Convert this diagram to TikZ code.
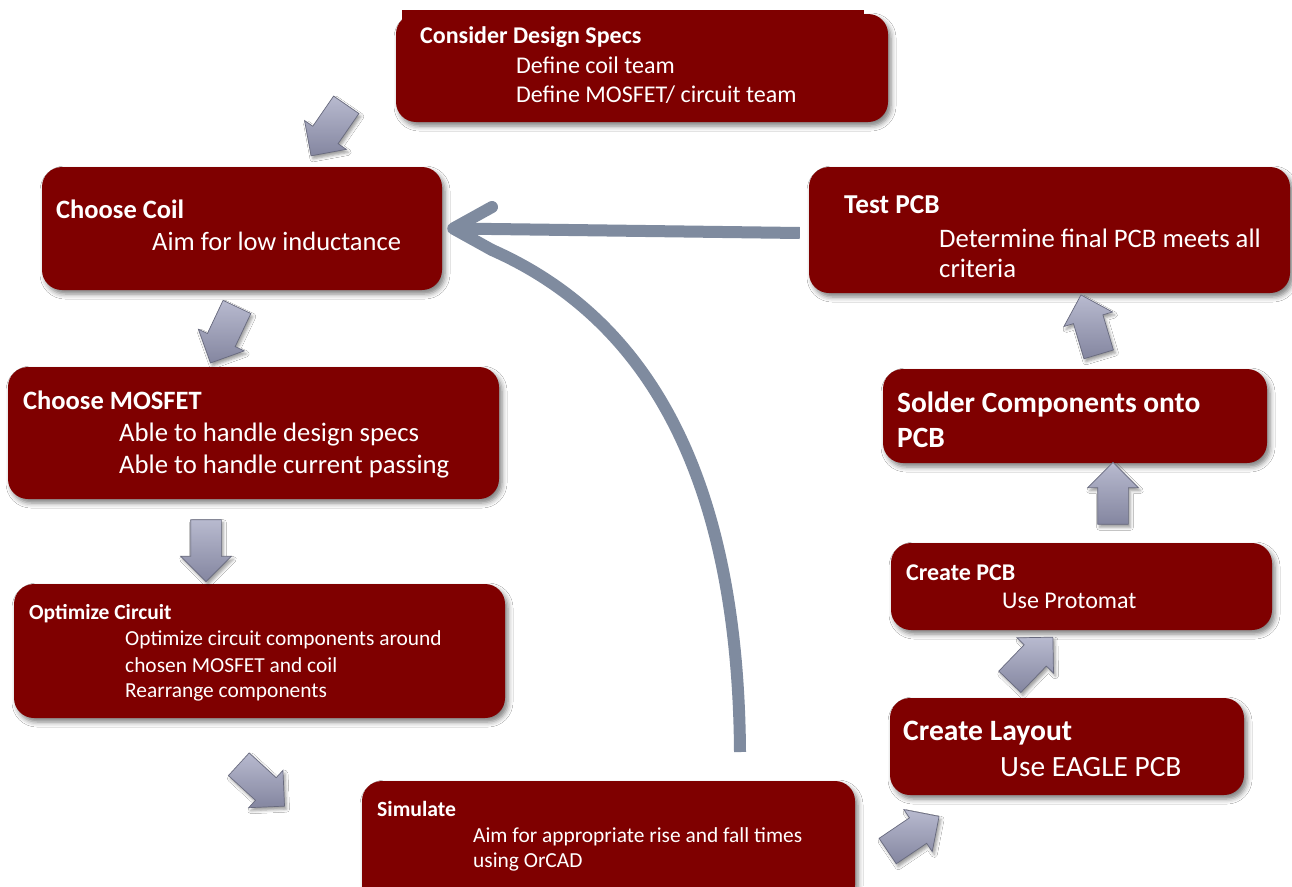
\documentclass[tikz,border=0pt]{standalone}
\usepackage{fontspec}
\setmainfont{Carlito}
\usetikzlibrary{shapes.arrows,shadows.blur}
\definecolor{boxred}{HTML}{7F0000}
\definecolor{arrgray}{HTML}{7F8B9F}
\definecolor{blocklight}{HTML}{B8BACF}
\definecolor{blockdark}{HTML}{8486A0}
\definecolor{blockedge}{HTML}{686A7E}
\newcommand{\fs}[1]{\fontsize{#1}{#1}\selectfont}
\begin{document}
\begin{tikzpicture}[x=1pt,y=-1pt,
  stepbox/.style={fill=boxred, rounded corners=20pt, inner sep=0pt,
    blur shadow={shadow xshift=3pt, shadow yshift=-4pt, shadow blur radius=5pt, shadow opacity=50}},
  txt/.style={anchor=base west, inner sep=0pt, text=white},
  blockarrow/.style={single arrow, single arrow head extend=10pt, inner xsep=0pt, inner ysep=15pt,
    minimum height=62pt, text width=0pt, draw=blockedge, line width=0.7pt,
    top color=blocklight, bottom color=blockdark,
    blur shadow={shadow xshift=2pt, shadow yshift=-3pt, shadow blur radius=3pt, shadow opacity=40}},
  bigline/.style={draw=arrgray, line width=12pt}
]
\useasboundingbox (0,0) rectangle (1292,886);
\clip (0,0) rectangle (1292,886);
\fill[white] (0,0) rectangle (1292,886);

% boxes
\node[stepbox, minimum width=492pt, minimum height=108pt] (cds) at (642,68) {};
\fill[boxred] (402,10) rectangle (864,40);
\node[stepbox, minimum width=400pt, minimum height=123pt] (coil) at (242,228.5) {};
\node[stepbox, minimum width=491pt, minimum height=132pt] (mosfet) at (253.5,433) {};
\node[stepbox, minimum width=491pt, minimum height=134pt] (opt) at (259.5,651) {};
\node[stepbox, minimum width=493pt, minimum height=124pt] (sim) at (608.5,843) {};
\node[stepbox, minimum width=354pt, minimum height=97pt] (layout) at (1067,746.5) {};
\node[stepbox, minimum width=381pt, minimum height=87pt] (pcb) at (1081.5,586.5) {};
\node[stepbox, minimum width=384pt, minimum height=94pt] (solder) at (1075,416) {};
\node[stepbox, minimum width=481pt, minimum height=126pt] (test) at (1049.5,230) {};

% texts
\node[txt, font=\fs{24}\bfseries] (t1a) at (420,43) {Consider Design Specs};
\node[txt, font=\fs{24}] (t1b) at (516,73) {Define coil team};
\node[txt, font=\fs{24}] (t1c) at (516,102) {Define MOSFET/ circuit team};

\node[txt, font=\fs{26.5}\bfseries] (t2a) at (56,218) {Choose Coil};
\node[txt, font=\fs{26.5}] (t2b) at (152,250) {Aim for low inductance};

\node[txt, font=\fs{26.5}\bfseries] (t3a) at (23,409) {Choose MOSFET};
\node[txt, font=\fs{26.7}] (t3b) at (119,441) {Able to handle design specs};
\node[txt, font=\fs{26.7}] (t3c) at (119,473) {Able to handle current passing};

\node[txt, font=\fs{21.5}\bfseries] (t4a) at (29,619) {Optimize Circuit};
\node[txt, font=\fs{21.4}] (t4b) at (125,645) {Optimize circuit components around};
\node[txt, font=\fs{21.4}] (t4c) at (125,672) {chosen MOSFET and coil};
\node[txt, font=\fs{21.4}] (t4d) at (125,697) {Rearrange components};

\node[txt, font=\fs{21.7}\bfseries] (t5a) at (377,816) {Simulate};
\node[txt, font=\fs{21.4}] (t5b) at (473,842) {Aim for appropriate rise and fall times};
\node[txt, font=\fs{21.4}] (t5c) at (473,867) {using OrCAD};

\node[txt, font=\fs{29.6}\bfseries] (t6a) at (903,740) {Create Layout};
\node[txt, font=\fs{29.4}] (t6b) at (1000,776) {Use EAGLE PCB};

\node[txt, font=\fs{24}\bfseries] (t7a) at (906,580) {Create PCB};
\node[txt, font=\fs{24}] (t7b) at (1002,608) {Use Protomat};

\node[txt, font=\fs{29.4}\bfseries] (t8a) at (897,412) {Solder Components onto};
\node[txt, font=\fs{29.4}\bfseries] (t8b) at (897,447) {PCB};

\node[txt, font=\fs{27.3}\bfseries] (t9a) at (844,213) {Test PCB};
\node[txt, font=\fs{26.7}] (t9b) at (939,247) {Determine final PCB meets all};
\node[txt, font=\fs{26.7}] (t9c) at (939,277) {criteria};

% block arrows
\node[blockarrow, rotate=-124.6] (a1) at (333,124) {};
\node[blockarrow, rotate=-115.3] (a2) at (227,328) {};
\node[blockarrow, rotate=-90] (a3) at (206,543) {};
\node[blockarrow, rotate=-42.5] (a4) at (256,780) {};
\node[blockarrow, rotate=34] (a5) at (907,838) {};
\node[blockarrow, rotate=46] (a6) at (1026,665) {};
\node[blockarrow, rotate=90] (a7) at (1113,501) {};
\node[blockarrow, rotate=106.6] (a8) at (1092,332) {};

% feedback connector
\coordinate (cstart) at (740,752);
\coordinate (tip) at ([xshift=11pt]coil.east);
\coordinate (wup) at (492,207);
\coordinate (wdn) at (492,250);
\coordinate (lineend) at ([xshift=-9pt,yshift=-3pt]test.west);
\draw[bigline] (lineend) -- (tip);
\draw[bigline] (cstart) .. controls (738,480) and (650,320) .. (wdn);
\draw[bigline, line cap=round, line join=round] (wup) -- (tip) -- (wdn);
\end{tikzpicture}
\end{document}
